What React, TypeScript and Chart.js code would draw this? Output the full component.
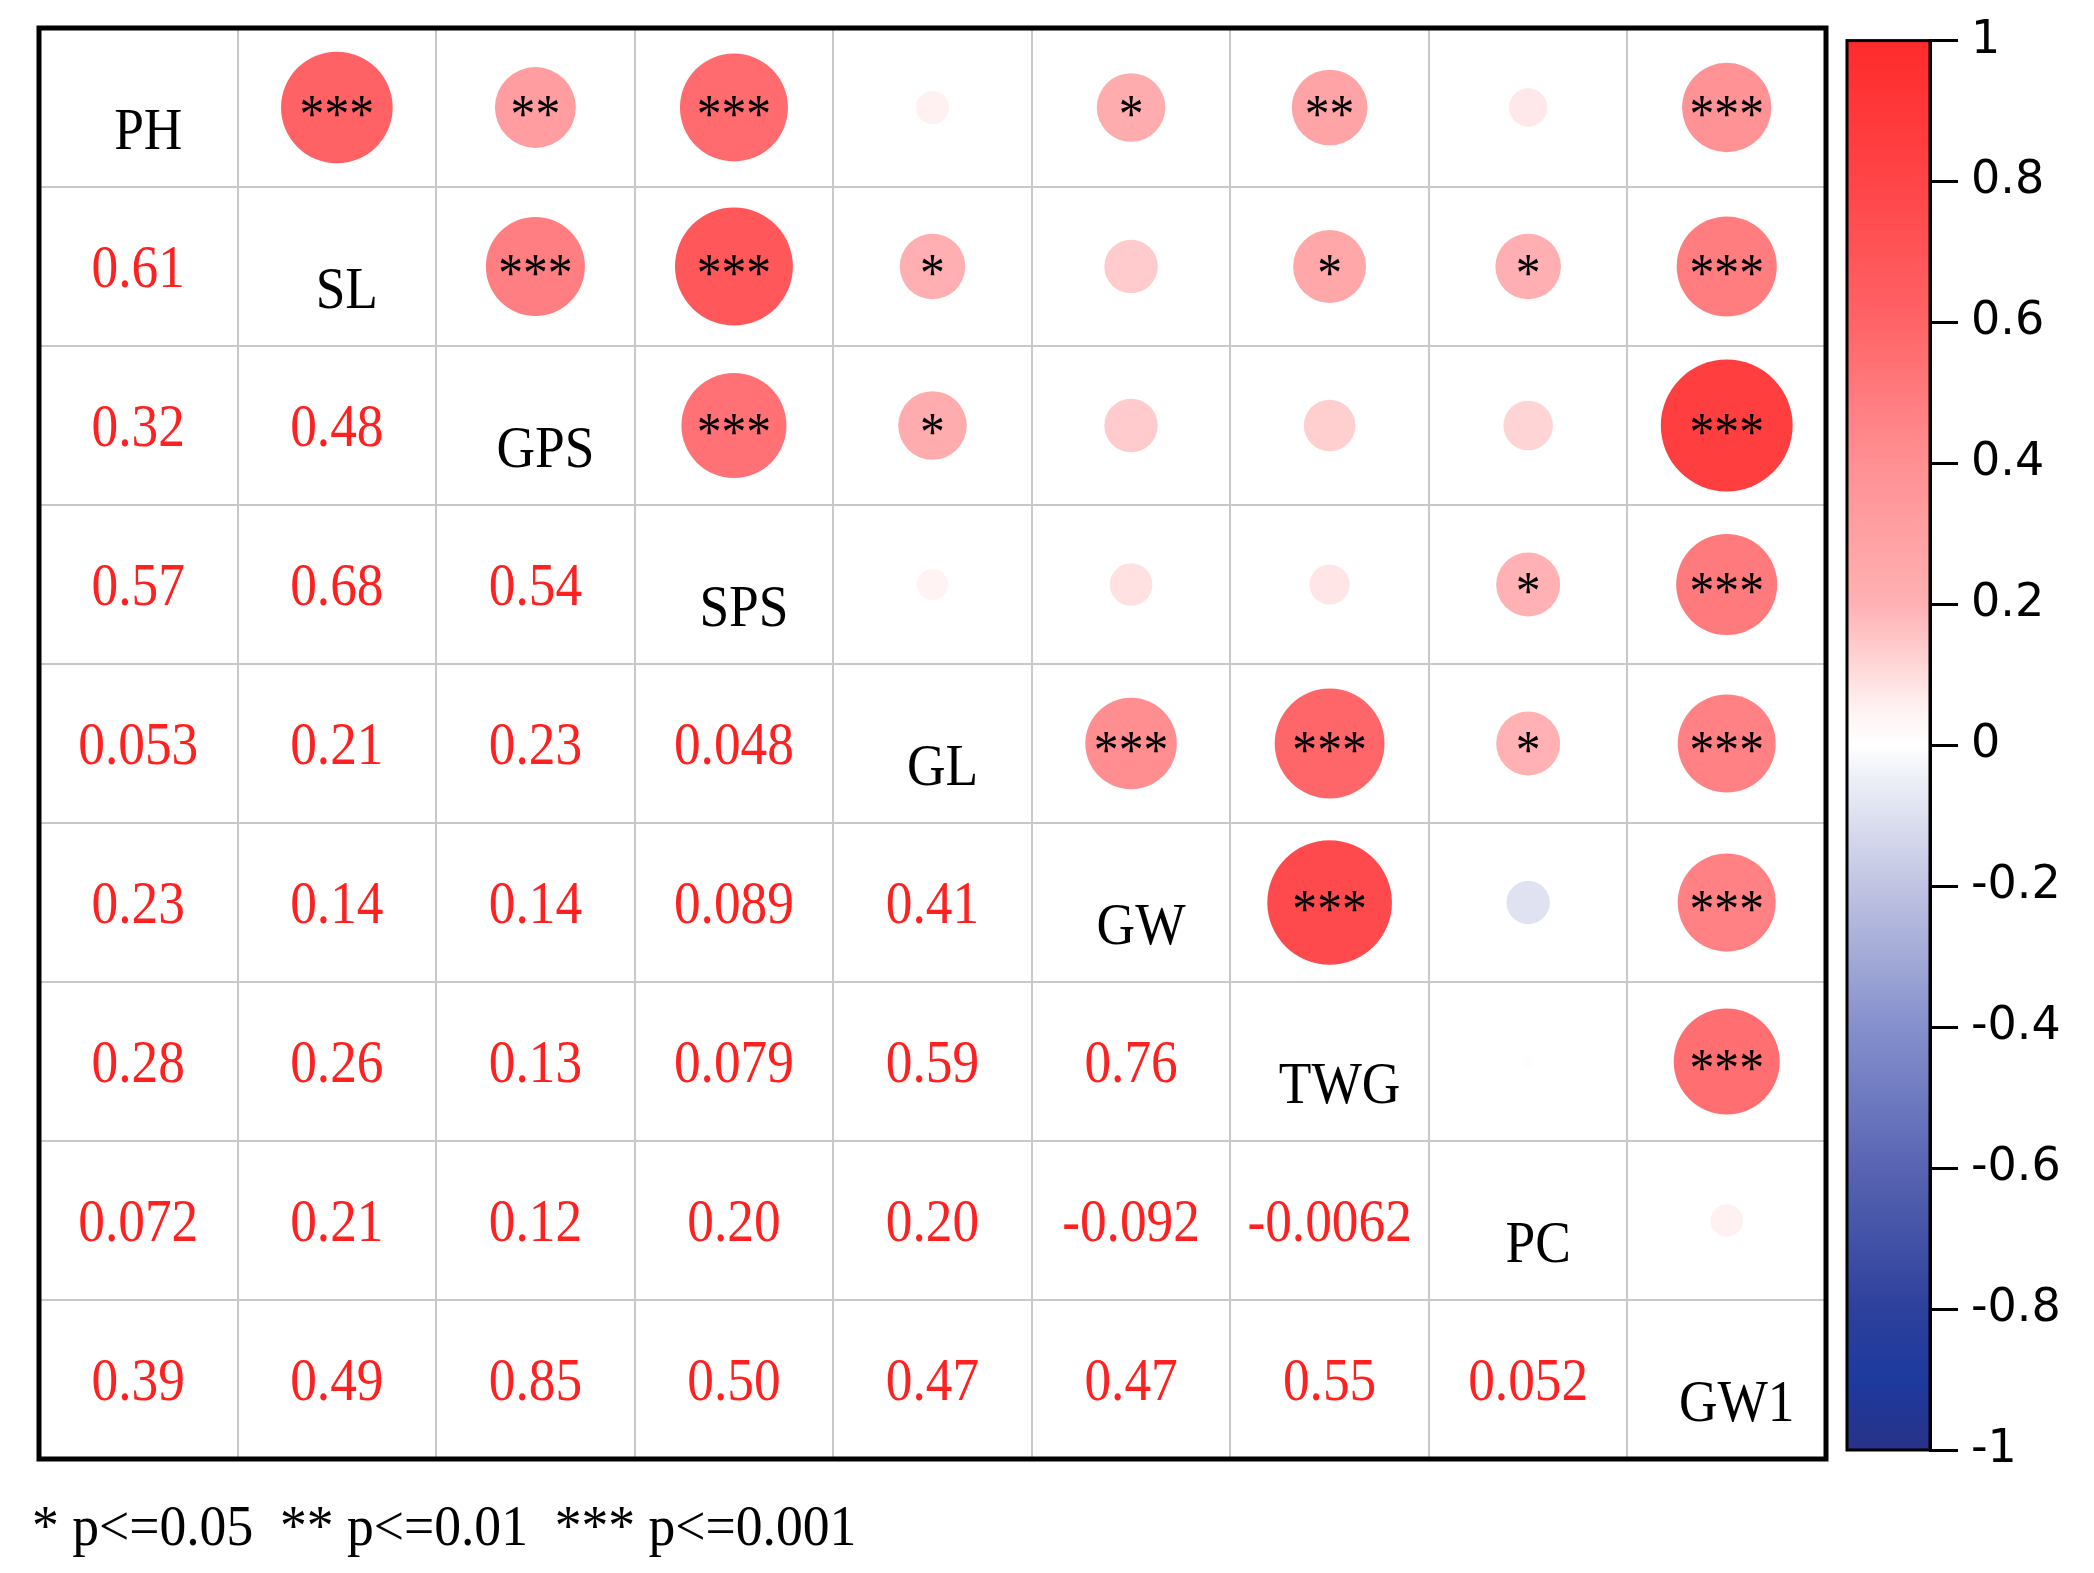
import React, { useEffect, useRef } from "react";
import { Chart, registerables } from "chart.js";

Chart.register(...registerables);

// ---- data ----
const variables = ["PH", "SL", "GPS", "SPS", "GL", "GW", "TWG", "PC", "GW1"];

// lower triangle correlations (row variable vs. earlier variables)
const corrSL = [0.61];
const corrGPS = [0.32, 0.48];
const corrSPS = [0.57, 0.68, 0.54];
const corrGL = [0.053, 0.21, 0.23, 0.048];
const corrGW = [0.23, 0.14, 0.14, 0.089, 0.41];
const corrTWG = [0.28, 0.26, 0.13, 0.079, 0.59, 0.76];
const corrPC = [0.072, 0.21, 0.12, 0.2, 0.2, -0.092, -0.0062];
const corrGW1 = [0.39, 0.49, 0.85, 0.5, 0.47, 0.47, 0.55, 0.052];

// significance (row variable vs. later variables)
const sigPH = ["***", "**", "***", "", "*", "**", "", "***"];
const sigSL = ["***", "***", "*", "", "*", "*", "***"];
const sigGPS = ["***", "*", "", "", "", "***"];
const sigSPS = ["", "", "", "*", "***"];
const sigGL = ["***", "***", "*", "***"];
const sigGW = ["***", "", "***"];
const sigTWG = ["", "***"];
const sigPC = [""];

const colorbarTicks = [-1, -0.8, -0.6, -0.4, -0.2, 0, 0.2, 0.4, 0.6, 0.8, 1];
const legendText = "* p<=0.05  ** p<=0.01  *** p<=0.001";

// colour map stops [value, colour]
const cmapValues = [-1, -0.9, -0.8, -0.6, -0.4, -0.2, -0.05, 0, 0.05, 0.2, 0.4, 0.6, 0.8, 1];
const cmapColors = [
  "#283287", "#1d3a9e", "#2d409c", "#5864b2", "#8490cc", "#c0c4e2", "#eceef7",
  "#ffffff", "#fff2f2", "#ffb1b3", "#ff9093", "#ff6467", "#ff4447", "#ff2b2b",
];

const lowerRows = [[], corrSL, corrGPS, corrSPS, corrGL, corrGW, corrTWG, corrPC, corrGW1];
const sigRows = [sigPH, sigSL, sigGPS, sigSPS, sigGL, sigGW, sigTWG, sigPC, []];

function hexToRgb(h: string) {
  const n = parseInt(h.slice(1), 16);
  return [(n >> 16) & 255, (n >> 8) & 255, n & 255];
}
function colorFor(v: number) {
  for (let k = 0; k < cmapValues.length - 1; k++) {
    if (v >= cmapValues[k] && v <= cmapValues[k + 1]) {
      const t = (v - cmapValues[k]) / (cmapValues[k + 1] - cmapValues[k]);
      const a = hexToRgb(cmapColors[k]);
      const b = hexToRgb(cmapColors[k + 1]);
      const c = a.map((x, i) => Math.round(x + (b[i] - x) * t));
      return `rgb(${c[0]},${c[1]},${c[2]})`;
    }
  }
  return "#ffffff";
}

const n = variables.length;
function corr(i: number, j: number) {
  return i > j ? lowerRows[i][j] : lowerRows[j][i];
}

const W = 2094;
const H = 1573;
const MAIN_W = 1840;
const CB_LEFT = 1830;

function condensedText(ctx: CanvasRenderingContext2D, text: string, x: number, y: number, sx: number) {
  ctx.save();
  ctx.translate(x, y);
  ctx.scale(sx, 1);
  ctx.fillText(text, 0, 0);
  ctx.restore();
}

export default function App() {
  const mainRef = useRef<HTMLCanvasElement>(null);
  const cbRef = useRef<HTMLCanvasElement>(null);

  useEffect(() => {
    document.body.style.margin = "0";
    const points: any[] = [];
    for (let i = 0; i < n; i++) {
      for (let j = i + 1; j < n; j++) {
        points.push({ x: j + 0.5, y: i + 0.5, v: corr(i, j), sig: sigRows[i][j - i - 1] });
      }
    }

    const decor = {
      id: "corrDecor",
      beforeDatasetsDraw(chart: any) {
        const { ctx, chartArea: a, scales } = chart;
        ctx.save();
        ctx.strokeStyle = "#c8c8c8";
        ctx.lineWidth = 2;
        for (let k = 1; k < n; k++) {
          const px = Math.round(scales.x.getPixelForValue(k));
          const py = Math.round(scales.y.getPixelForValue(k));
          ctx.beginPath();
          ctx.moveTo(px, a.top);
          ctx.lineTo(px, a.bottom);
          ctx.stroke();
          ctx.beginPath();
          ctx.moveTo(a.left, py);
          ctx.lineTo(a.right, py);
          ctx.stroke();
        }
        ctx.restore();
      },
      afterDatasetsDraw(chart: any) {
        const { ctx, chartArea: a, scales } = chart;
        ctx.save();
        ctx.textAlign = "center";
        ctx.textBaseline = "alphabetic";
        // stars
        ctx.fillStyle = "#000";
        const starSize = 54;
        ctx.font = `${starSize}px 'Liberation Serif'`;
        points.forEach((p) => {
          if (!p.sig) return;
          const cx = scales.x.getPixelForValue(p.x);
          const cy = scales.y.getPixelForValue(p.y);
          condensedText(ctx, p.sig, cx, cy + 0.45 * starSize, 0.92);
        });
        // diagonal labels
        ctx.font = "60px 'Liberation Serif'";
        variables.forEach((name, i) => {
          const cx = scales.x.getPixelForValue(i + 0.5);
          const cy = scales.y.getPixelForValue(i + 0.5);
          condensedText(ctx, name, cx + 10, cy + 41, 0.89);
        });
        // lower triangle numbers
        ctx.fillStyle = "#ff2020";
        ctx.font = "62px 'Liberation Serif'";
        for (let i = 1; i < n; i++) {
          for (let j = 0; j < i; j++) {
            const v = corr(i, j);
            const cx = scales.x.getPixelForValue(j + 0.5);
            const cy = scales.y.getPixelForValue(i + 0.5);
            condensedText(ctx, v.toPrecision(2), cx, cy + 20, 0.86);
          }
        }
        // frame
        ctx.strokeStyle = "#000";
        ctx.lineWidth = 5;
        ctx.strokeRect(a.left, a.top, a.right - a.left, a.bottom - a.top);
        // legend
        ctx.fillStyle = "#000";
        ctx.textAlign = "left";
        ctx.font = "57px 'Liberation Serif'";
        condensedText(ctx, legendText, 32, a.bottom + 86, 0.94);
        ctx.restore();
      },
    };

    const main = new Chart(mainRef.current!, {
      type: "scatter",
      data: {
        datasets: [
          {
            data: points,
            pointRadius: (c: any) => 71.5 * Math.sqrt(Math.abs(c.raw ? c.raw.v : 0)),
            pointHoverRadius: (c: any) => 71.5 * Math.sqrt(Math.abs(c.raw ? c.raw.v : 0)),
            backgroundColor: (c: any) => colorFor(c.raw ? c.raw.v : 0),
            borderWidth: 0,
            clip: false as any,
          } as any,
        ],
      },
      options: {
        animation: false,
        responsive: false,
        devicePixelRatio: 1,
        events: [],
        layout: { autoPadding: false, padding: { left: 39, top: 28, right: MAIN_W - 1826, bottom: H - 1459 } },
        plugins: { legend: { display: false }, tooltip: { enabled: false } },
        scales: {
          x: { type: "linear", min: 0, max: n, display: false },
          y: { type: "linear", min: 0, max: n, reverse: true, display: false },
        },
      } as any,
      plugins: [decor],
    });

    const cbPlugin = {
      id: "cbGradient",
      beforeDatasetsDraw(chart: any) {
        const { ctx, chartArea: a, scales } = chart;
        const g = ctx.createLinearGradient(0, a.top, 0, a.bottom);
        cmapValues.forEach((v, k) => {
          const t = (scales.y.getPixelForValue(v) - a.top) / (a.bottom - a.top);
          g.addColorStop(Math.min(1, Math.max(0, t)), cmapColors[k]);
        });
        ctx.save();
        ctx.fillStyle = g;
        ctx.fillRect(a.left, a.top, a.right - a.left, a.bottom - a.top);
        ctx.strokeStyle = "#000";
        ctx.lineWidth = 3;
        ctx.strokeRect(a.left, a.top, a.right - a.left, a.bottom - a.top);
        ctx.restore();
      },
    };

    const cb = new Chart(cbRef.current!, {
      type: "scatter",
      data: { datasets: [{ data: [] }] },
      options: {
        animation: false,
        responsive: false,
        devicePixelRatio: 1,
        events: [],
        layout: { autoPadding: false, padding: { left: 17, top: 40, right: 0, bottom: H - 1450 } },
        plugins: { legend: { display: false }, tooltip: { enabled: false } },
        scales: {
          x: { type: "linear", min: 0, max: 1, display: false },
          y: {
            type: "linear",
            position: "right",
            min: -1,
            max: 1,
            afterBuildTicks: (s: any) => {
              s.ticks = colorbarTicks.map((v) => ({ value: v }));
            },
            afterFit: (s: any) => {
              s.width = 164;
            },
            ticks: {
              color: "#000",
              padding: 13,
              font: { family: "'DejaVu Sans'", size: 46 },
              callback: (v: any) => String(Math.round(Number(v) * 10) / 10),
            },
            grid: { drawOnChartArea: false, drawTicks: true, tickLength: 28, color: "#000", lineWidth: 3 },
            border: { display: true, color: "#000", width: 3 },
          },
        },
      } as any,
      plugins: [cbPlugin],
    });

    return () => {
      main.destroy();
      cb.destroy();
    };
  }, []);

  return (
    <div style={{ position: "absolute", left: 0, top: 0, width: W, height: H, background: "#fff" }}>
      <canvas
        ref={mainRef}
        width={MAIN_W}
        height={H}
        style={{ position: "absolute", left: 0, top: 0, width: MAIN_W, height: H }}
      />
      <canvas
        ref={cbRef}
        width={W - CB_LEFT}
        height={H}
        style={{ position: "absolute", left: CB_LEFT, top: 0, width: W - CB_LEFT, height: H }}
      />
    </div>
  );
}
